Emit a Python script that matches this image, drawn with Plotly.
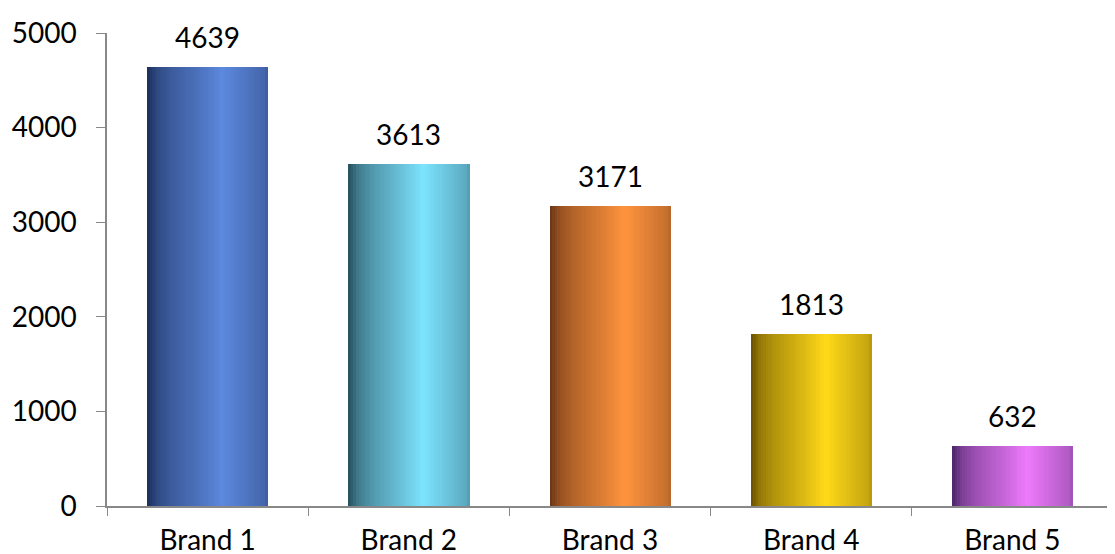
import plotly.graph_objects as go
import numpy as np

categories = ["Brand 1", "Brand 2", "Brand 3", "Brand 4", "Brand 5"]
values = [4639, 3613, 3171, 1813, 632]

# gradient colours per bar: (left dark, peak light)
left_cols = [(28, 45, 90), (38, 78, 92), (105, 52, 20), (105, 80, 0), (75, 38, 105)]
peak_cols = [(92, 137, 222), (125, 228, 255), (255, 148, 62), (255, 218, 25), (238, 122, 252)]

N = 48
bar_w = 0.6
prof_s = [0.0, 0.08, 0.2, 0.45, 0.62, 0.85, 0.97, 1.0]
prof_t = [0.0, 0.3, 0.5, 0.78, 1.0, 0.75, 0.62, 0.5]

def mix(a, b, t):
    return "rgb(%d,%d,%d)" % tuple(int(round(a[i] + (b[i] - a[i]) * t)) for i in range(3))

fig = go.Figure()
for k in range(N):
    s = (k + 0.5) / N
    t = float(np.interp(s, prof_s, prof_t))
    cols = [mix(left_cols[i], peak_cols[i], t) for i in range(len(categories))]
    fig.add_trace(go.Bar(
        x=categories, y=values,
        width=bar_w / N * 1.15,
        offset=-bar_w / 2 + k * bar_w / N,
        marker=dict(color=cols, line=dict(width=0)),
        showlegend=False, hoverinfo="skip",
    ))

for c, v in zip(categories, values):
    fig.add_annotation(x=c, y=v, text=str(v), showarrow=False, yanchor="bottom",
                       yshift=11, font=dict(family="Lato", size=28, color="#000"))

fig.update_layout(
    width=1107, height=546,
    margin=dict(l=99, r=2, t=25, b=48),
    barmode="overlay", bargap=0,
    plot_bgcolor="white", paper_bgcolor="white",
    font=dict(family="Lato", size=28, color="#000"),
)
fig.update_xaxes(type="category", tickson="boundaries", ticks="outside", ticklen=8,
                 tickcolor="#888", showline=True, linecolor="#888", linewidth=1.5,
                 showgrid=False, ticklabelstandoff=9, automargin=False)
fig.update_yaxes(range=[0, 5000], dtick=1000, ticks="outside", ticklen=9,
                 tickcolor="#888", showline=True, linecolor="#888", linewidth=1.5,
                 showgrid=False, zeroline=False, ticklabelstandoff=14, automargin=False)

fig.write_html("out.html")
